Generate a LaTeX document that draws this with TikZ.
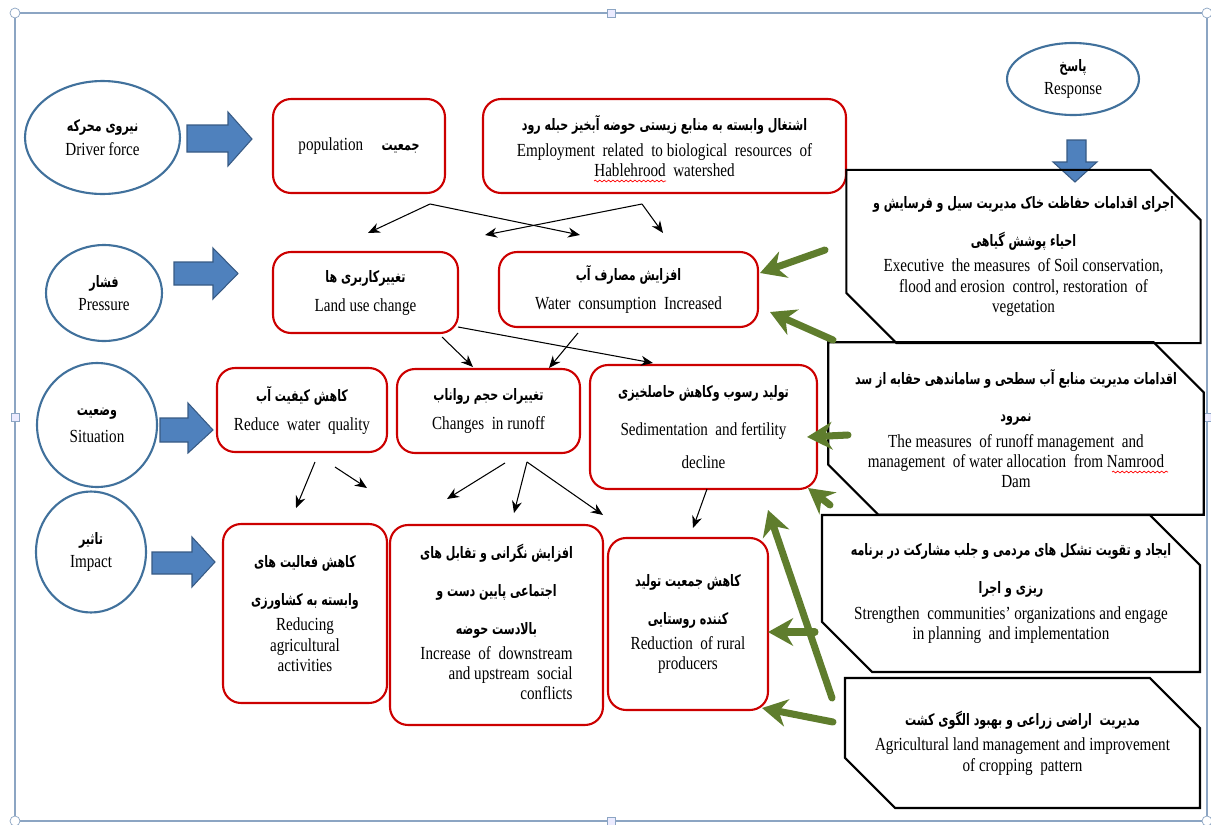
\documentclass[tikz,border=0pt]{standalone}
\usepackage{fontspec}
\setmainfont{Liberation Serif}[FakeStretch=0.82]
\newfontfamily\arabicfont[Script=Arabic,FakeStretch=0.7]{DejaVu Sans}
\TeXXeTstate=1
\usetikzlibrary{shapes.geometric,shapes.misc,arrows.meta,positioning,decorations.pathmorphing}
\definecolor{boxred}{RGB}{204,0,0}
\definecolor{ovalblue}{RGB}{65,113,156}
\definecolor{arrowblue}{RGB}{79,129,189}
\definecolor{arrowgreen}{RGB}{95,125,45}
\definecolor{framegrey}{RGB}{140,165,195}
\newcommand{\fatext}[1]{{\arabicfont\bfseries\fontsize{9}{10}\selectfont\beginR #1\endR}}

\begin{document}
\begin{tikzpicture}[x=0.02cm,y=-0.02cm,
  every node/.style={font=\fontsize{10.5}{11.5}\selectfont},
  redbox/.style={draw=boxred,line width=1.2pt,rounded corners=0.36cm,align=center,inner sep=2pt},
  oval/.style={ellipse,draw=ovalblue,line width=1.2pt,align=center,inner sep=0pt},
  measurebox/.style={chamfered rectangle,chamfered rectangle corners={north east,south west},
    chamfered rectangle sep=0.5cm,draw=black,line width=1.2pt,align=center,inner sep=1pt},
  thinarrow/.style={-{Stealth[length=2.4mm,width=2mm]},line width=0.6pt},
  greenarrow/.style={draw=arrowgreen,line width=4pt,line cap=round,
    -{Stealth[length=5mm,width=5.5mm,inset=1.6mm]}},
  blockarrow/.style={fill=arrowblue,draw=arrowblue!70!black,line width=0.6pt},
  spellmark/.style={draw=red,line width=0.4pt,decorate,
    decoration={snake,amplitude=0.5pt,segment length=2.5pt}}]
\useasboundingbox (0,0) rectangle (1211,825);

% canvas frame
\draw[framegrey,line width=0.8pt] (15,13) rectangle (1207,821);
\foreach \hx/\hy in {15/13,1207/13,15/821,1207/821}
  \draw[framegrey,fill=white] (\hx,\hy) circle (0.1cm);
\foreach \hx/\hy in {611/13,15/417,1207/417,611/821}
  \draw[framegrey,fill=blue!8] (\hx-4,\hy-4) rectangle (\hx+4,\hy+4);

% DPSIR ovals
\node[oval,minimum width=3.1cm,minimum height=2.26cm] (driver) at (102.5,137.5)
  {\fatext{نیروی محرکه}\\[2pt]Driver force};
\node[oval,minimum width=2.32cm,minimum height=1.92cm] (pressure) at (104,293)
  {\fatext{فشار}\\[2pt]Pressure};
\node[oval,minimum width=2.4cm,minimum height=2.48cm] (situation) at (97,425)
  {\fatext{وضعیت}\\[4pt]Situation};
\node[oval,minimum width=2.2cm,minimum height=2.42cm] (impact) at (91,552)
  {\fatext{تاثیر}\\[2pt]Impact};
\node[oval,minimum width=2.64cm,minimum height=1.44cm] (response) at (1073,79)
  {\fatext{پاسخ}\\[2pt]Response};

% block arrows
\draw[blockarrow] (187,125) -- (228,125) -- (228,112) -- (252,139) -- (228,166) -- (228,152) -- (187,152) -- cycle;
\draw[blockarrow] (174,262) -- (213,262) -- (213,248) -- (238,273.5) -- (213,299) -- (213,285) -- (174,285) -- cycle;
\draw[blockarrow] (160,418) -- (188,418) -- (188,403) -- (213,430) -- (188,453) -- (188,442) -- (160,442) -- cycle;
\draw[blockarrow] (152,552) -- (192,552) -- (192,537) -- (215,562) -- (192,587) -- (192,574) -- (152,574) -- cycle;
\draw[blockarrow] (1067,140) -- (1086,140) -- (1086,162) -- (1097,162) -- (1075,182) -- (1053,162) -- (1067,162) -- cycle;

% red boxes
\node[redbox,minimum width=3.44cm,minimum height=1.88cm] (population) at (359,146)
  {population\quad\fatext{جمعیت}};
\node[redbox,minimum width=7.26cm,minimum height=1.88cm] (employment) at (664.5,146)
  {\fatext{اشتغال وابسته به منابع زیستی حوضه آبخیز حبله رود}\\[3pt]
   Employment\ \ related\ \ to biological\ \ resources\ \ of\\ Hablehrood\ \ watershed};
\node[redbox,minimum width=3.7cm,minimum height=1.62cm] (landuse) at (365.5,292.5)
  {\fatext{تغییرکاربری ها}\\[5pt]Land use change};
\node[redbox,minimum width=5.18cm,minimum height=1.5cm] (wateruse) at (628.5,289.5)
  {\fatext{افزایش مصارف آب}\\[5pt]Water\ \ consumption\ \ Increased};
\node[redbox,minimum width=3.4cm,minimum height=1.68cm] (quality) at (302,410)
  {\fatext{کاهش کیفیت آب}\\[5pt]Reduce\ \ water\ \ quality};
\node[redbox,minimum width=3.66cm,minimum height=1.68cm] (runoff) at (488.5,411)
  {\fatext{تغییرات حجم رواناب}\\[5pt]Changes\ \ in runoff};
\node[redbox,minimum width=4.54cm,minimum height=2.48cm] (sediment) at (703.5,427)
  {\fatext{تولید رسوب وکاهش حاصلخیزی}\\[10pt]Sedimentation\ \ and fertility\\[7pt]decline};
\node[redbox,minimum width=3.28cm,minimum height=3.58cm] (agriculture) at (305,613.5)
  {\fatext{کاهش فعالیت های}\\[10pt]\fatext{وابسته به کشاورزی}\\[3pt]Reducing\\agricultural\\activities};
\node[redbox,minimum width=4.26cm,minimum height=4cm] (conflict) at (496.5,625)
  {\fatext{افزایش نگرانی و تقابل های}\\[10pt]\fatext{اجتماعی پایین دست و}\\[10pt]\fatext{بالادست حوضه}\\[3pt]
   \begin{tabular}{@{}r@{}}Increase\ \ of\ \ downstream\\and upstream\ \ social\\conflicts\ \end{tabular}};
\node[redbox,minimum width=3.2cm,minimum height=3.44cm] (rural) at (688,624)
  {\fatext{کاهش جمعیت تولید}\\[10pt]\fatext{کننده روستایی}\\[3pt]Reduction\ \ of rural\\producers};

% response measures
\node[measurebox,minimum width=7.06cm,minimum height=3.34cm] (conservation) at (1023.5,256.5)
  {\fatext{اجرای اقدامات حفاظت خاک مدیریت سیل و فرسایش و}\\[10pt]\fatext{احیاء پوشش گیاهی}\\[3pt]
   Executive\ \ the measures\ \ of Soil conservation,\\flood and erosion\ \ control, restoration\ \ of\\vegetation};
\node[measurebox,minimum width=7.36cm,minimum height=3.14cm] (allocation) at (1016,428.5)
  {\fatext{اقدامات مدیریت منابع آب سطحی و ساماندهی حقابه از سد}\\[10pt]\fatext{نمرود}\\[3pt]
   The measures\ \ of runoff management\ \ and\\management\ \ of water allocation\ \ from Namrood\\Dam};
\node[measurebox,minimum width=7.56cm,minimum height=3.14cm] (organization) at (1011,593.5)
  {\fatext{ایجاد و تقویت تشکل های مردمی و جلب مشارکت در برنامه}\\[10pt]\fatext{ریزی و اجرا}\\[3pt]
   Strengthen\ \ communities'\ organizations\ and engage\\in planning\ \ and implementation};
\node[measurebox,minimum width=7.1cm,minimum height=2.6cm] (cropping) at (1022.5,743)
  {\fatext{مدیریت\ \ اراضی زراعی و بهبود الگوی کشت}\\[3pt]
   Agricultural\ land management\ and improvement\\of cropping\ \ pattern};

% spelling marks under the two place names
\draw[spellmark] (594,181) -- (666,181);
\draw[spellmark] (1112,472) -- (1168,472);

% ends of the thin arrows
\coordinate (popfoot) at (430,204);
\coordinate (empfoot) at (642,204);
\coordinate (lutipA) at (368,233);
\coordinate (wctipA) at (580,235);
\coordinate (lutipB) at (485,235);
\coordinate (wctipB) at (663,233);
\coordinate (lufoot) at (442,337);
\coordinate (lucorner) at (458,327);
\coordinate (wcfoot) at (578,333);
\coordinate (rotipA) at (473,367);
\coordinate (rotipB) at (549,368);
\coordinate (setip) at (653,363);
\coordinate (wqfootA) at (315,462);
\coordinate (wqfootB) at (335,467);
\coordinate (rofootA) at (505,463);
\coordinate (rofootB) at (527,462);
\coordinate (sefoot) at (707,489);
\coordinate (agtip) at (296,508);
\coordinate (cftipA) at (367,488);
\coordinate (cftipB) at (447,499);
\coordinate (cftipC) at (514,513);
\coordinate (rptipA) at (603,515);
\coordinate (rptipB) at (693,528);

\draw[thinarrow] (popfoot) -- (lutipA);
\draw[thinarrow] (popfoot) -- (wctipA);
\draw[thinarrow] (empfoot) -- (lutipB);
\draw[thinarrow] (empfoot) -- (wctipB);
\draw[thinarrow] (lufoot) -- (rotipA);
\draw[thinarrow] (wcfoot) -- (rotipB);
\draw[thinarrow] (lucorner) -- (setip);
\draw[thinarrow] (wqfootA) -- (agtip);
\draw[thinarrow] (wqfootB) -- (cftipA);
\draw[thinarrow] (rofootA) -- (cftipB);
\draw[thinarrow] (rofootB) -- (cftipC);
\draw[thinarrow] (rofootB) -- (rptipA);
\draw[thinarrow] (sefoot) -- (rptipB);

% green arrows from the responses
\coordinate (gtailA) at (825,250);
\coordinate (gtailB) at (833,340);
\coordinate (gtailC) at (848,435);
\coordinate (gtailD) at (830,505);
\coordinate (gtailE) at (832,698);
\coordinate (gtailF) at (815,632);
\coordinate (gtailG) at (833,722);
\coordinate (gtipA) at (760,273);
\coordinate (gtipB) at (770,312);
\coordinate (gtipC) at (807,437);
\coordinate (gtipD) at (808,488);
\coordinate (gtipE) at (768,510);
\coordinate (gtipF) at (768,632);
\coordinate (gtipG) at (762,708);
\foreach \g in {A,B,C,D,E,F,G}
  \draw[greenarrow] (gtail\g) -- (gtip\g);
\end{tikzpicture}
\end{document}
